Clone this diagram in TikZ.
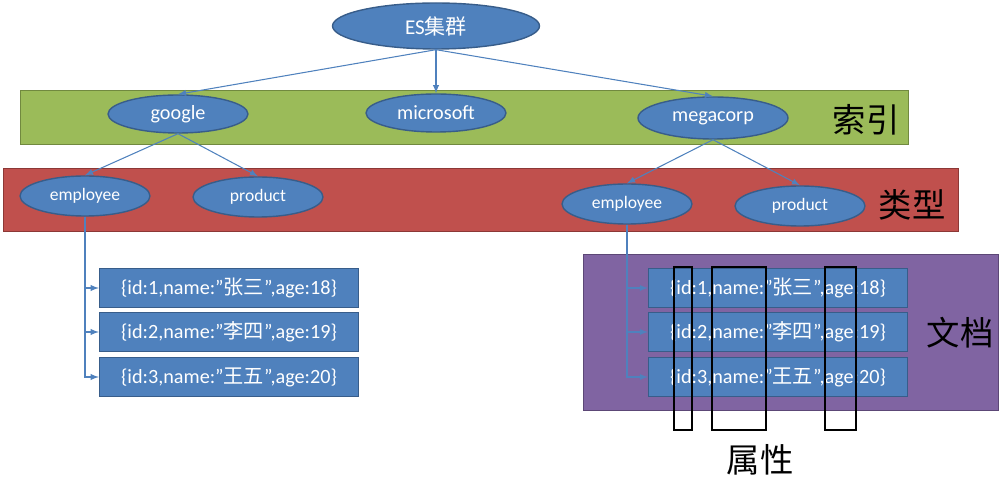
\documentclass[tikz,border=0pt]{standalone}
\usepackage{fontspec}
\setmainfont{Carlito}
\newfontfamily\cjk{Noto Sans CJK SC}
\usetikzlibrary{shapes.geometric}

\definecolor{nodeblue}{HTML}{4F81BD}
\definecolor{nodeedge}{HTML}{385D8A}
\definecolor{indexgreen}{HTML}{9BBB59}
\definecolor{indexedge}{HTML}{71893F}
\definecolor{typered}{HTML}{C0504D}
\definecolor{typeedge}{HTML}{8C3836}
\definecolor{docpurple}{HTML}{8064A2}
\definecolor{docedge}{HTML}{5C4776}

\begin{document}
\begin{tikzpicture}[x=0.02cm,y=-0.02cm,
  cluster/.style={ellipse,draw=nodeedge,thick,fill=nodeblue,text=white,inner sep=0pt,minimum width=4.14cm,minimum height=0.92cm,font=\fontsize{12}{13}\selectfont},
  indexnode/.style={ellipse,draw=nodeedge,thick,fill=nodeblue,text=white,inner sep=0pt,minimum width=2.8cm,minimum height=0.76cm,font=\fontsize{11.5}{12}\selectfont},
  typenode/.style={ellipse,draw=nodeedge,thick,fill=nodeblue,text=white,inner sep=0pt,minimum width=2.6cm,minimum height=0.8cm,font=\fontsize{10}{11}\selectfont},
  docnode/.style={rectangle,draw=nodeedge,thick,fill=nodeblue,text=white,inner sep=0pt,minimum width=5.18cm,minimum height=0.78cm,font=\fontsize{11.5}{12}\selectfont},
  levelname/.style={font=\fontsize{19}{20}\selectfont\cjk},
  attrbox/.style={draw=black,line width=1.2pt},
  arrow/.style={-latex,nodeblue,semithick}]
  \useasboundingbox (0,0) rectangle (1000,482);

  % layers
  \draw[draw=indexedge,fill=indexgreen] (20,90) rectangle (908,144);
  \draw[draw=typeedge,fill=typered] (3,168) rectangle (958,231);
  \draw[draw=docedge,fill=docpurple] (583,254) rectangle (998,410);

  \node[cluster] (es) at (436,26) {ES{\cjk 集群}};
  \node[indexnode] (google) at (178,114) {google};
  \node[indexnode] (microsoft) at (436,113) {microsoft};
  \node[indexnode,minimum width=3cm,minimum height=0.84cm] (megacorp) at (713,118) {megacorp};
  \node[typenode] (google employee) at (85,196) {employee};
  \node[typenode] (google product) at (258,197) {product};
  \node[typenode] (megacorp employee) at (627,204) {employee};
  \node[typenode] (megacorp product) at (800,206) {product};

  \node[docnode] (google doc1) at (229,288) {\{id:1,name:”{\cjk 张三}”,age:18\}};
  \node[docnode] (google doc2) at (229,332) {\{id:2,name:”{\cjk 李四}”,age:19\}};
  \node[docnode] (google doc3) at (229,377) {\{id:3,name:”{\cjk 王五}”,age:20\}};
  \node[docnode] (megacorp doc1) at (778,288) {\{id:1,name:”{\cjk 张三}”,age:18\}};
  \node[docnode] (megacorp doc2) at (778,332) {\{id:2,name:”{\cjk 李四}”,age:19\}};
  \node[docnode] (megacorp doc3) at (778,377) {\{id:3,name:”{\cjk 王五}”,age:20\}};

  \node[levelname] (index label) at (866,120) {索引};
  \node[levelname] (type label) at (912,205) {类型};
  \node[levelname] (doc label) at (960,333) {文档};
  \node[levelname] (field label) at (760,460) {属性};

  \draw[arrow] (es.south) -- (google.north);
  \draw[arrow] (es.south) -- (microsoft.north);
  \draw[arrow] (es.south) -- (megacorp.north);
  \draw[arrow] (google.south) -- (google employee.north);
  \draw[arrow] (google.south) -- (google product.north);
  \draw[arrow] (megacorp.south) -- (megacorp employee.north);
  \draw[arrow] (megacorp.south) -- (megacorp product.north);
  \draw[arrow] (google employee.south) |- (google doc1.west);
  \draw[arrow] (google employee.south) |- (google doc2.west);
  \draw[arrow] (google employee.south) |- (google doc3.west);
  \draw[arrow] (megacorp employee.south) |- (megacorp doc1.west);
  \draw[arrow] (megacorp employee.south) |- (megacorp doc2.west);
  \draw[arrow] (megacorp employee.south) |- (megacorp doc3.west);

  % fields
  \draw[attrbox] (674,267) rectangle (692,430);
  \draw[attrbox] (712,267) rectangle (766,430);
  \draw[attrbox] (825,267) rectangle (856,430);
\end{tikzpicture}
\end{document}
